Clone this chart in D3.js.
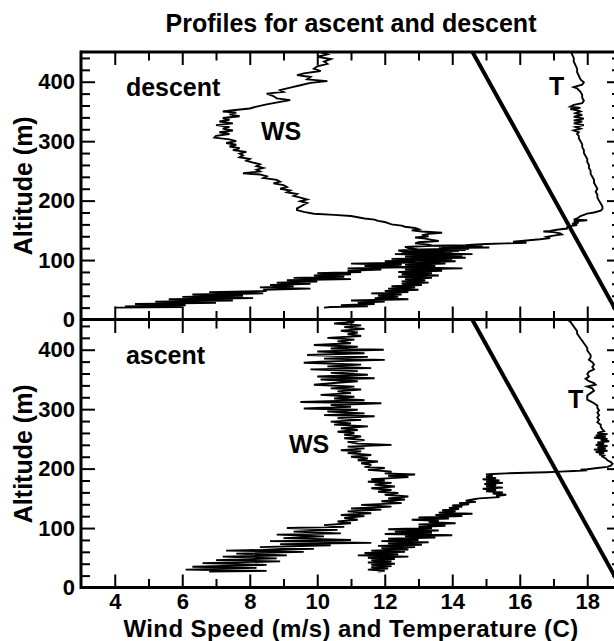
<!DOCTYPE html>
<html>
<head>
<meta charset="utf-8">
<script src="https://cdn.jsdelivr.net/npm/d3@7"></script>
<style>
  body { margin: 0; background: #fff; }
  svg text { font-family: "Liberation Sans", Arial, Helvetica, sans-serif; font-weight: bold; fill: #000; }
</style>
</head>
<body>
<svg id="chart" width="614" height="641"></svg>
<script>
// profiles: [altitude (m), value]
var wsDescent = [[450,10.1],[446,10.3],[442,10.0],[438,10.4],[434,10.2],[430,10.3],[426,10.0],[422,9.9],[418,10.1],[414,9.6],[411,9.4],[408,9.8],[404,9.7],[401,10.3],[398,9.8],[394,9.5],[390,9.2],[386,8.9],[383,9.0],[380,8.5],[376,8.7],[372,8.8],[369,9.2],[366,8.9],[362,8.5],[358,8.2],[355,8.0],[352,7.5],[350,7.2],[348,7.6],[345,7.4],[342,7.7],[339,7.2],[336,7.4],[333,7.1],[330,7.5],[327,7.0],[324,7.4],[321,7.2],[318,7.5],[315,7.1],[312,7.4],[309,7.0],[306,6.95],[303,7.4],[300,7.6],[297,7.3],[294,7.6],[291,7.4],[288,7.7],[285,7.5],[282,7.9],[279,7.7],[276,7.8],[273,7.7],[270,8.0],[267,7.9],[264,8.1],[261,8.3],[258,8.2],[255,8.4],[252,8.2],[249,8.3],[246,7.8],[244,8.3],[241,8.5],[238,8.4],[235,8.8],[232,8.9],[229,8.7],[226,9.0],[223,9.1],[220,8.9],[217,9.2],[214,9.1],[211,9.4],[208,9.3],[205,9.5],[202,9.7],[199,9.5],[196,9.7],[193,9.6],[190,9.5],[187,9.4],[184,9.4],[181,9.6],[178,9.9],[176,10.5],[174,11.0],[172,11.2],[170,11.4],[168,11.7],[166,11.8],[164,12.0],[162,12.1],[160,12.2],[158,12.5],[156,12.6],[154,12.9],[152,13.0],[150,12.8],[148,13.1],[146,13.7],[144,13.3],[142,13.1],[140,13.3],[138,12.9],[136,13.2],[134,13.4],[132,13.6],[130,13.0],[128,12.9],[126,13.3],[124,13.4],[122,12.6],[120,12.7],[118,13.0],[116,12.4],[114,12.6],[112,13.8],[110,12.3],[108,13.9],[106,12.6],[104,14.4],[102,12.2],[100,13.5],[98,12.0],[96,12.9],[94,11.0],[92,12.5],[90,11.4],[88,12.6],[86,10.9],[84,11.9],[82,10.9],[80,11.3],[78,10.0],[76,11.0],[74,9.9],[72,10.8],[70,9.3],[68,11.0],[66,9.1],[64,10.0],[62,8.8],[60,9.8],[58,8.6],[56,9.3],[54,8.3],[52,9.8],[50,8.4],[48,8.5],[46,6.8],[44,8.4],[42,6.3],[40,7.8],[38,6.0],[36,8.1],[34,5.6],[32,7.5],[30,5.2],[28,7.0],[26,4.6],[24,6.1],[22,4.3],[21,6.0],[20,4.0]];

var tDescent = [[452,17.5],[446,17.55],[440,17.6],[434,17.6],[428,17.65],[422,17.7],[416,17.7],[410,17.75],[404,17.8],[399,17.9],[395,17.85],[391,17.6],[389,17.7],[386,17.75],[383,17.8],[378,17.85],[373,17.85],[368,17.9],[364,17.85],[361,17.6],[358,17.5],[356,17.8],[354,17.5],[352,17.7],[350,17.8],[347,17.65],[344,17.85],[341,17.6],[338,17.9],[335,17.6],[333,17.85],[330,17.6],[327,17.9],[324,17.65],[321,17.8],[318,17.6],[315,17.75],[312,17.7],[309,17.75],[305,17.75],[300,17.8],[295,17.85],[290,17.85],[285,17.9],[280,17.9],[275,17.95],[270,18.0],[265,18.0],[260,18.05],[255,18.05],[250,18.1],[245,18.1],[240,18.15],[235,18.2],[230,18.2],[225,18.25],[220,18.3],[215,18.25],[210,18.3],[205,18.3],[200,18.35],[195,18.4],[190,18.45],[186,18.45],[183,18.4],[180,18.2],[178,18.0],[176,17.9],[174,17.8],[172,17.75],[170,17.7],[168,17.6],[167,18.0],[165,17.6],[163,17.75],[161,17.55],[159,17.7],[157,17.5],[155,17.4],[153,17.4],[151,17.1],[149,16.9],[148,16.7],[147,17.0],[145,17.2],[143,17.25],[141,17.0],[139,16.8],[137,16.9],[135,16.6],[133,16.2],[131,15.8],[130,16.0],[129,16.2],[128,15.6],[127,15.0],[126,14.6],[125,14.4],[124,13.4],[123,14.9],[122,13.7],[121,15.1],[120,13.6],[119,14.5],[118,13.0],[117,14.4],[116,12.8],[115,14.2],[114,12.5],[113,14.0],[112,13.1],[110,14.6],[108,12.9],[106,14.3],[104,12.8],[102,14.0],[100,13.0],[98,14.1],[96,12.7],[94,13.8],[92,12.6],[90,13.5],[88,12.5],[86,14.3],[84,12.6],[82,13.7],[80,12.4],[78,13.4],[76,12.5],[74,13.6],[72,12.4],[70,13.4],[68,12.6],[66,13.2],[64,12.5],[62,13.3],[60,12.5],[58,13.1],[56,12.2],[54,12.9],[52,12.1],[50,13.0],[48,12.0],[46,12.7],[44,11.6],[42,12.5],[40,11.8],[38,12.4],[36,11.7],[34,12.7],[32,11.0],[30,12.0],[28,11.2],[26,11.7],[24,10.7],[22,11.5],[21,10.4],[20,10.2]];

var wsAscent = [[450,10.8],[447,11.1],[444,10.5],[441,11.3],[438,10.8],[435,11.4],[432,10.7],[429,11.2],[426,10.9],[423,11.3],[420,10.3],[417,11.1],[414,10.6],[411,11.0],[408,9.9],[405,11.2],[402,10.4],[400,11.97],[397,10.0],[394,11.4],[391,9.7],[388,11.5],[385,10.2],[383,12.0],[380,10.1],[378,9.6],[375,11.3],[372,10.3],[369,11.6],[367,9.8],[364,11.2],[361,10.4],[358,11.5],[355,10.0],[352,11.7],[350,10.1],[347,11.2],[344,10.5],[341,9.9],[338,11.1],[335,10.4],[333,11.3],[330,10.6],[327,11.0],[324,10.1],[321,11.1],[318,10.5],[315,11.4],[312,9.5],[310,11.9],[307,10.4],[304,11.0],[301,9.6],[299,11.2],[296,10.3],[293,11.4],[290,10.2],[288,11.7],[285,10.6],[282,11.3],[279,10.4],[276,11.0],[274,10.5],[271,11.5],[268,10.7],[265,11.2],[262,10.6],[260,11.1],[257,10.8],[254,11.3],[251,10.8],[248,11.4],[245,10.9],[242,11.2],[240,12.2],[237,10.9],[234,11.4],[231,10.7],[229,11.3],[226,10.9],[223,11.6],[220,11.0],[217,11.5],[214,11.2],[212,11.8],[209,11.3],[206,11.6],[203,11.4],[201,12.0],[198,11.5],[195,12.2],[192,12.0],[190,12.9],[188,12.1],[186,12.7],[184,12.2],[182,11.6],[180,12.0],[178,11.5],[176,12.2],[173,11.7],[170,12.3],[167,11.6],[164,12.2],[161,11.8],[159,12.4],[156,12.0],[153,12.7],[150,12.1],[148,12.6],[145,11.9],[142,12.5],[139,11.3],[136,12.2],[133,11.0],[131,11.9],[128,10.9],[125,11.6],[122,10.7],[120,11.4],[117,10.8],[114,11.2],[111,10.6],[108,11.0],[105,10.2],[102,10.8],[100,9.1],[97,10.6],[94,9.3],[91,10.7],[89,8.8],[86,10.2],[83,9.0],[80,11.0],[78,8.6],[75,11.6],[73,8.9],[71,10.4],[68,8.3],[65,9.9],[62,7.3],[60,9.6],[57,7.6],[54,9.1],[52,7.2],[49,8.8],[46,7.0],[44,8.9],[41,6.6],[38,8.5],[35,6.3],[33,8.2],[30,6.1],[28,8.5],[27,6.8]];

var tAscent = [[451,17.4],[447,17.5],[443,17.55],[439,17.6],[435,17.65],[431,17.7],[427,17.7],[423,17.75],[419,17.8],[415,17.85],[411,17.9],[407,17.95],[403,18.0],[399,18.0],[395,18.05],[391,18.1],[387,18.1],[383,18.05],[379,18.15],[375,18.2],[371,18.15],[367,18.2],[363,18.05],[359,18.0],[355,18.05],[351,17.95],[347,18.05],[344,18.2],[341,18.25],[338,18.0],[335,18.15],[331,18.2],[327,18.1],[323,18.0],[319,18.0],[316,18.0],[313,18.1],[310,18.2],[306,18.3],[302,18.3],[298,18.35],[294,18.3],[290,18.35],[286,18.3],[282,18.35],[278,18.3],[274,18.4],[270,18.4],[266,18.45],[263,18.5],[260,18.3],[258,18.6],[256,18.25],[254,18.55],[252,18.2],[250,18.6],[248,18.4],[246,18.65],[244,18.3],[242,18.5],[240,18.25],[238,18.6],[236,18.3],[234,18.55],[232,18.2],[230,18.6],[228,18.25],[226,18.5],[224,18.35],[222,18.5],[220,18.45],[217,18.55],[214,18.6],[211,18.7],[208,18.75],[205,18.7],[203,18.6],[201,18.3],[199,18.0],[198,17.8],[197,18.0],[196,17.6],[195,17.2],[194,16.8],[193,16.2],[192,15.6],[191,15.2],[190,15.0],[188,15.2],[186,15.0],[184,15.3],[182,14.9],[180,15.4],[178,15.0],[176,15.5],[174,14.95],[172,15.3],[170,15.0],[168,15.5],[166,14.9],[164,15.3],[162,15.0],[160,15.5],[158,15.2],[156,15.6],[154,15.3],[152,15.4],[150,14.8],[148,14.6],[146,14.4],[144,14.7],[142,14.2],[140,14.5],[138,14.0],[136,14.3],[134,13.9],[132,14.2],[130,13.7],[128,14.1],[126,13.6],[124,14.6],[122,13.5],[120,14.3],[118,13.0],[116,13.9],[114,12.8],[112,13.6],[110,13.3],[108,14.1],[106,13.0],[104,13.8],[102,13.0],[100,13.4],[98,12.1],[96,13.6],[94,12.3],[92,13.4],[90,12.0],[88,14.0],[86,12.6],[84,13.5],[82,12.1],[80,13.0],[78,11.9],[76,13.3],[74,12.1],[72,13.1],[70,11.8],[68,12.9],[66,11.9],[64,12.7],[62,11.6],[60,12.6],[58,11.4],[56,12.4],[54,11.2],[52,12.7],[50,11.5],[48,12.3],[46,11.6],[44,12.2],[42,11.5],[40,12.3],[38,11.6],[36,12.2],[34,11.6],[32,12.1],[30,11.5],[28,12.0],[27,11.8]];

// dry adiabat reference line
var dryAdiabat = [[0,19.0],[450,14.6]];

var xMajor = [4,6,8,10,12,14,16,18];
var xMinor = [5,7,9,11,13,15,17];
var yMajor = [0,100,200,300,400];
var yMinor = [20,40,60,80,120,140,160,180,220,240,260,280,320,340,360,380,420,440];

var svg = d3.select("#chart");
var left = 81, right = 621;   // right frame sits just outside the picture

var x = d3.scaleLinear().domain([3, 19]).range([left, right]);
var yTop = d3.scaleLinear().domain([0, 450]).range([319.5, 52]);
var yBot = d3.scaleLinear().domain([0, 450]).range([587.5, 320]);

function tickAxis(axisFn, scale, values, size) {
  return axisFn(scale).tickValues(values).tickSizeInner(-size).tickSizeOuter(0).tickFormat("");
}

function styleAxis(g) {
  g.select(".domain").remove();
  g.selectAll(".tick line").attr("stroke", "#000").attr("stroke-width", 2);
  g.selectAll(".tick text").style("font-size", "22px");
}

function drawPanel(y, id, ws, t, name, wsAt, tAt) {
  svg.append("clipPath").attr("id", id)
    .append("rect").attr("x", left).attr("y", y(450)).attr("width", right - left).attr("height", y(0) - y(450));

  var lines = svg.append("g").attr("clip-path", "url(#" + id + ")");
  var line = d3.line().x(function(d) { return x(d[1]); }).y(function(d) { return y(d[0]); });

  lines.append("path").datum(dryAdiabat).attr("d", line)
    .attr("fill", "none").attr("stroke", "#000").attr("stroke-width", 4);
  [ws, t].forEach(function(s) {
    lines.append("path").datum(s).attr("d", line)
      .attr("fill", "none").attr("stroke", "#000").attr("stroke-width", 1.9).attr("stroke-linejoin", "miter");
  });

  // left axis: inward ticks with labels
  svg.append("g").attr("transform", "translate(" + left + ",0)")
    .call(d3.axisLeft(y).tickValues(yMajor).tickSizeInner(-14).tickSizeOuter(0).tickPadding(6))
    .call(styleAxis);
  svg.append("g").attr("transform", "translate(" + left + ",0)")
    .call(tickAxis(d3.axisLeft, y, yMinor, 9)).call(styleAxis);
  // right axis
  svg.append("g").attr("transform", "translate(" + right + ",0)")
    .call(tickAxis(d3.axisRight, y, yMajor, 14)).call(styleAxis);
  svg.append("g").attr("transform", "translate(" + right + ",0)")
    .call(tickAxis(d3.axisRight, y, yMinor, 9)).call(styleAxis);
  // top and bottom x ticks
  svg.append("g").attr("transform", "translate(0," + y(450) + ")")
    .call(tickAxis(d3.axisTop, x, xMajor, 13)).call(styleAxis);
  svg.append("g").attr("transform", "translate(0," + y(450) + ")")
    .call(tickAxis(d3.axisTop, x, xMinor, 8.5)).call(styleAxis);
  svg.append("g").attr("transform", "translate(0," + y(0) + ")")
    .call(tickAxis(d3.axisBottom, x, xMinor, 8.5)).call(styleAxis);

  svg.append("text").attr("x", x(4.33)).attr("y", y(376)).style("font-size", "25px").text(name);
  svg.append("text").attr("x", x(wsAt[0])).attr("y", y(wsAt[1])).style("font-size", "25px").text("WS");
  svg.append("text").attr("x", x(tAt[0])).attr("y", y(tAt[1])).style("font-size", "25px").text("T");

  svg.append("text")
    .attr("transform", "translate(32," + ((y(0) + y(450)) / 2) + ") rotate(-90)")
    .attr("text-anchor", "middle").style("font-size", "25px").text("Altitude (m)");
}

drawPanel(yTop, "clipTop", wsDescent, tDescent, "descent", [8.33, 302], [16.87, 378]);
drawPanel(yBot, "clipBot", wsAscent, tAscent, "ascent", [9.16, 226], [17.43, 302]);

// top panel bottom ticks (pointing up) on the shared line
svg.append("g").attr("transform", "translate(0," + yTop(0) + ")")
  .call(tickAxis(d3.axisBottom, x, xMajor, 13)).call(styleAxis);

// bottom x axis with labels
svg.append("g").attr("transform", "translate(0," + yBot(0) + ")")
  .call(d3.axisBottom(x).tickValues(xMajor).tickSizeInner(-13).tickSizeOuter(0).tickPadding(6))
  .call(styleAxis);

// frame
var frame = svg.append("g").attr("stroke", "#000").attr("stroke-width", 3).attr("fill", "none");
frame.append("line").attr("x1", left).attr("x2", left).attr("y1", yTop(450) - 1.5).attr("y2", yBot(0) + 1.5);
frame.append("line").attr("x1", left).attr("x2", right).attr("y1", yTop(450)).attr("y2", yTop(450));
frame.append("line").attr("x1", left).attr("x2", right).attr("y1", yTop(0)).attr("y2", yTop(0));
frame.append("line").attr("x1", left).attr("x2", right).attr("y1", yBot(0)).attr("y2", yBot(0));
frame.append("line").attr("x1", right).attr("x2", right).attr("y1", yTop(450)).attr("y2", yBot(0));

svg.append("text").attr("x", 351).attr("y", 32).attr("text-anchor", "middle")
  .style("font-size", "25px").text("Profiles for ascent and descent");
svg.append("text").attr("x", 351).attr("y", 637).attr("text-anchor", "middle")
  .style("font-size", "24px").style("letter-spacing", "0.4px").text("Wind Speed (m/s) and Temperature (C)");
</script>
</body>
</html>
